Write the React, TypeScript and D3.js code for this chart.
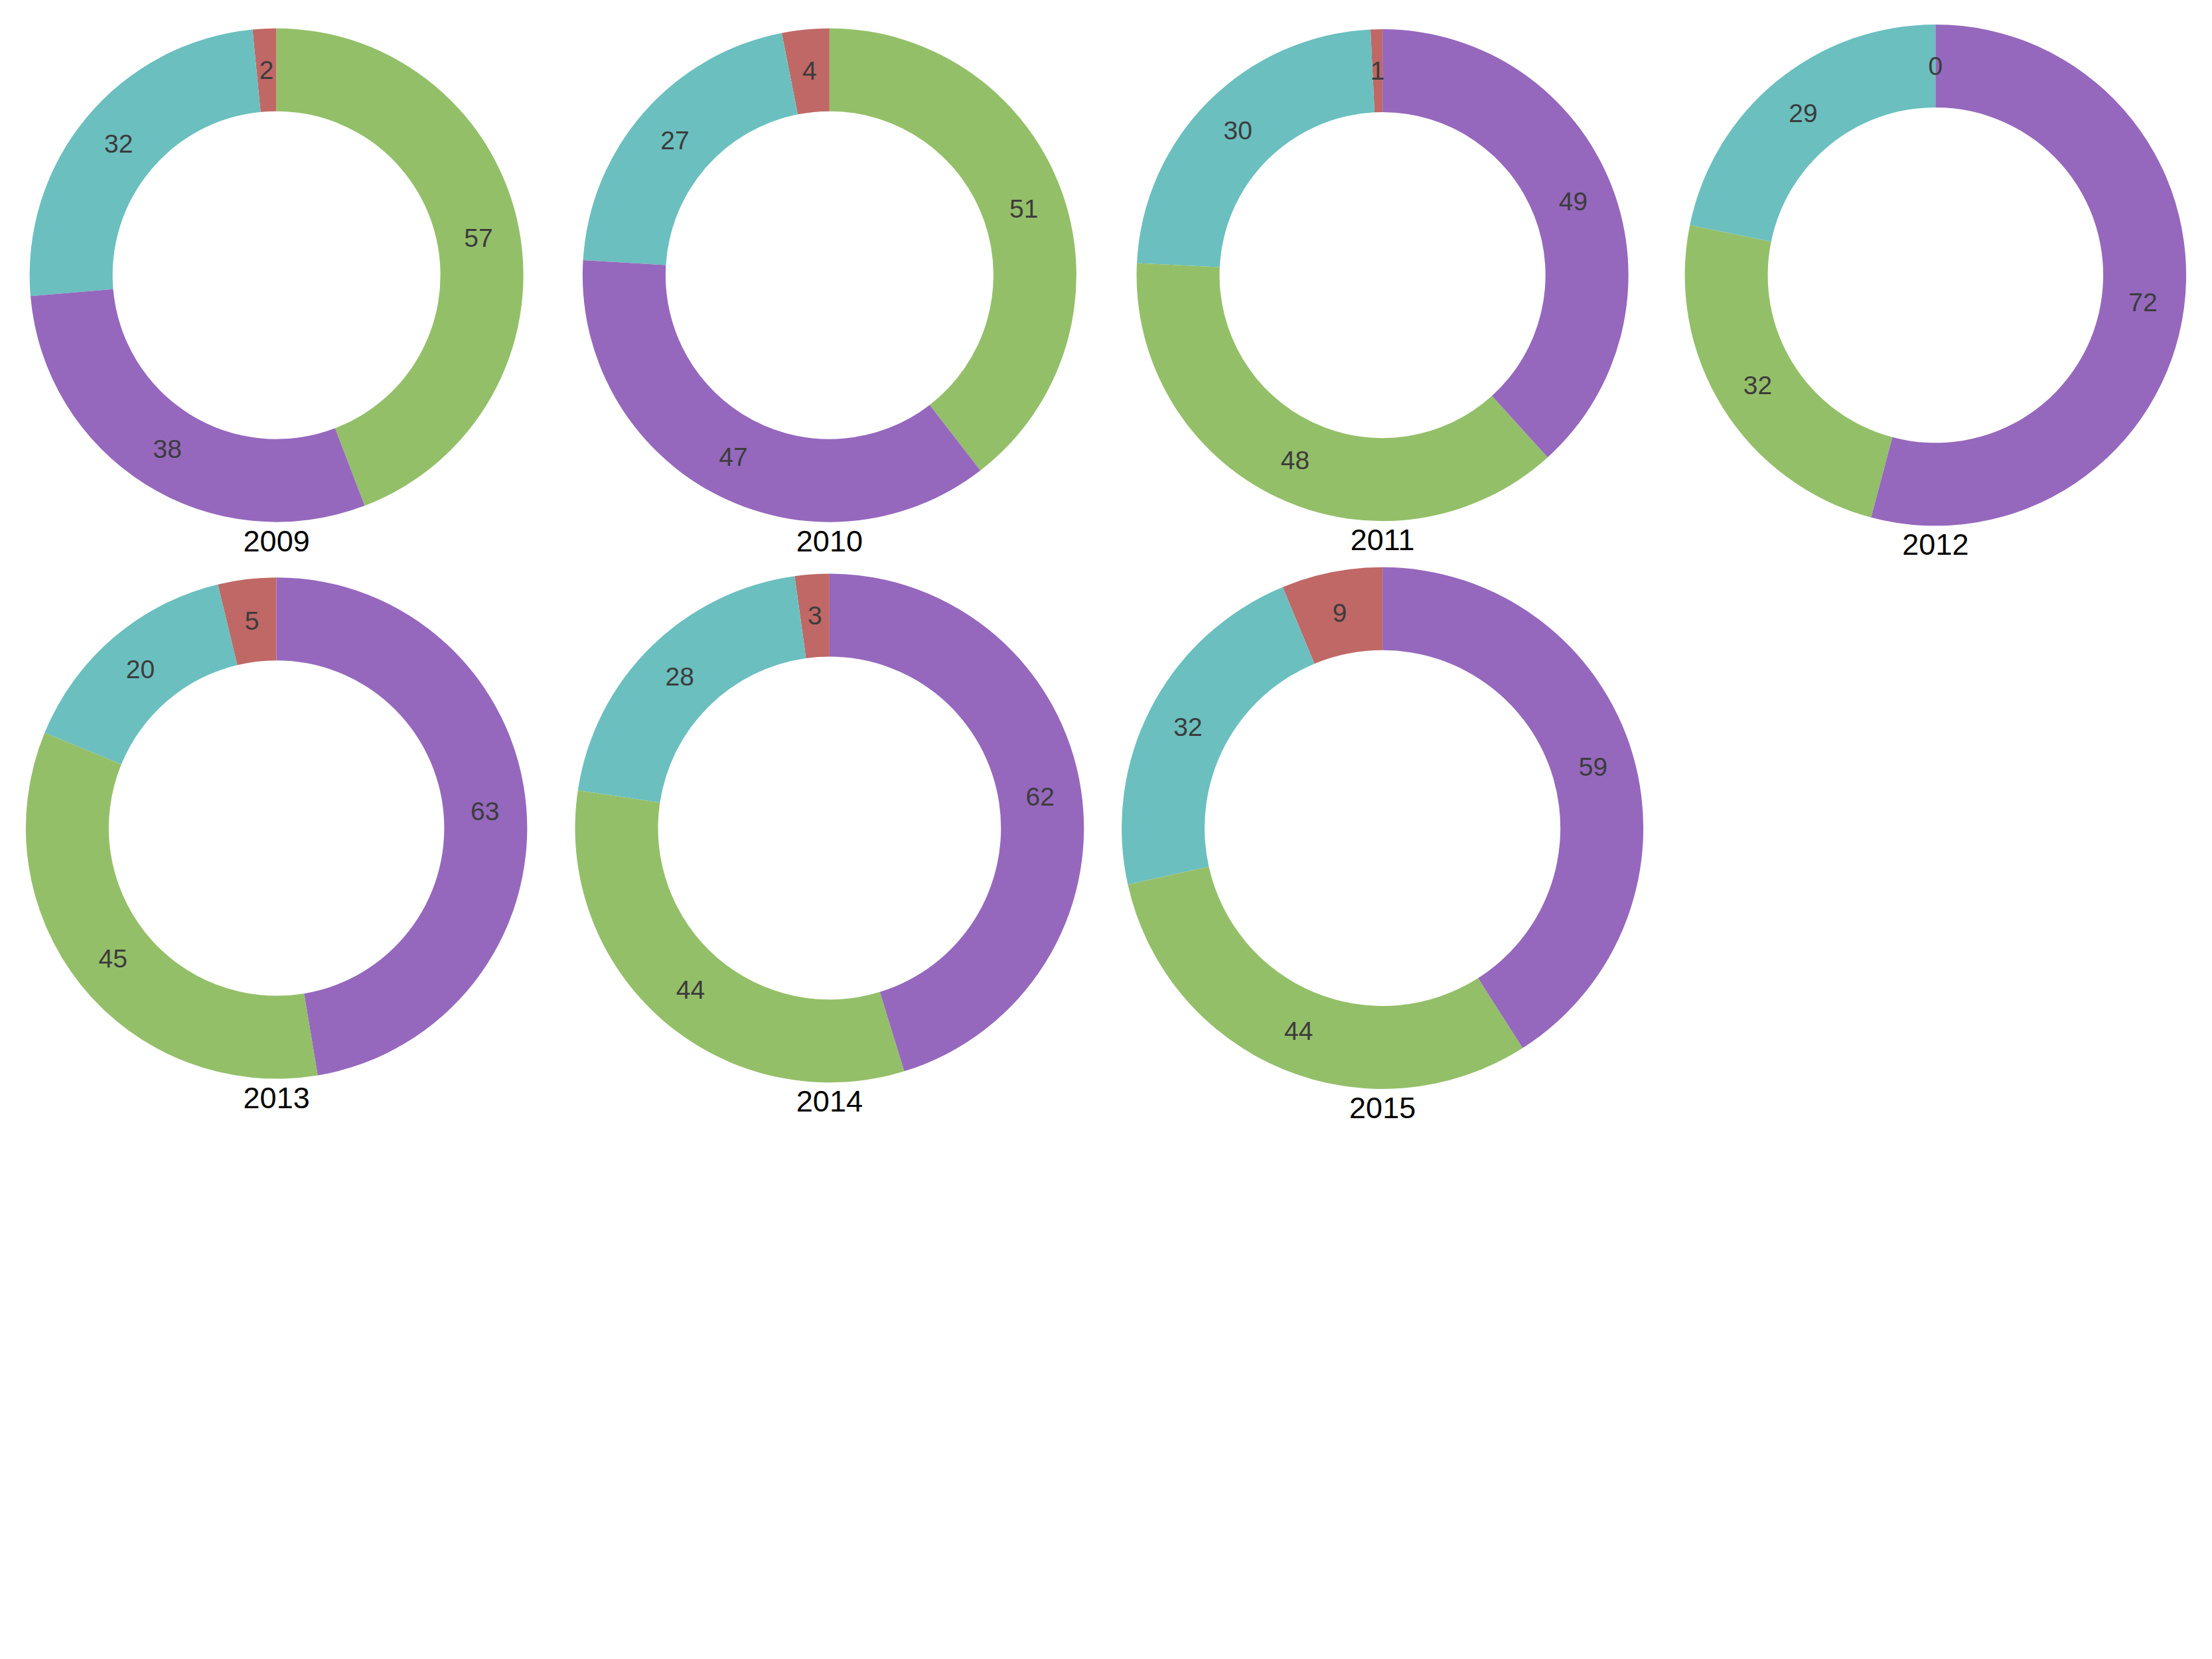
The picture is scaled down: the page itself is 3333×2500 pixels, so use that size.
import React, { useEffect } from 'react';
import * as d3 from 'd3';

// one donut per year, four categories each
const years = ['2009', '2010', '2011', '2012', '2013', '2014', '2015'];
const categories = ['red', 'teal', 'green', 'purple'];
const redValues = [2, 4, 1, 0, 5, 3, 9];
const tealValues = [32, 27, 30, 29, 20, 28, 32];
const greenValues = [57, 51, 48, 32, 45, 44, 44];
const purpleValues = [38, 47, 49, 72, 63, 62, 59];

const colors = ['#c06866', '#6bbfbf', '#94bf69', '#9568bd'];

const W = 3333;
const H = 2500;
const COLS = 4;
const cell = W / COLS;
const RING = 125;                    // ring thickness, constant across donuts
const FONT = '"Liberation Sans", Arial, sans-serif';

const App = () => {
    useEffect(() => {
        document.body.style.margin = '0';
    }, []);

    const series = [redValues, tealValues, greenValues, purpleValues];
    const rows = years.map((year, i) => ({
        year,
        slices: categories.map((c, k) => ({ cat: c, color: colors[k], value: series[k][i] })),
    }));

    // outer radius grows with the square root of the year total
    const rScale = d3.scaleSqrt().domain([0, 129]).range([0, 372]);
    const pie = d3.pie<any>().value(d => d.value);   // default sort: largest first, clockwise from top

    return (
        <svg width={W} height={H} style={{ display: 'block' }}>
            {rows.map((row, i) => {
                const total = d3.sum(row.slices, d => d.value);
                const R = rScale(total);
                const arc = d3.arc<any>().innerRadius(R - RING).outerRadius(R);
                const cx = cell * (i % COLS + 0.5);
                const cy = cell * (Math.floor(i / COLS) + 0.5) - 2;
                const arcs = pie(row.slices);
                return (
                    <g key={row.year} transform={`translate(${cx},${cy})`}>
                        {arcs.map(a => (
                            <path key={a.data.cat} d={arc(a) || ''} fill={a.data.color} />
                        ))}
                        {arcs.map(a => {
                            const [x, y] = arc.centroid(a);
                            return (
                                <text key={'t' + a.data.cat} x={x} y={y} dy="0.35em"
                                    textAnchor="middle" fontFamily={FONT} fontSize={39}
                                    fill="#3c3c3c">
                                    {a.data.value}
                                </text>
                            );
                        })}
                        <text x={0} y={R + 44} textAnchor="middle" fontFamily={FONT}
                            fontSize={45} fill="#000">
                            {row.year}
                        </text>
                    </g>
                );
            })}
        </svg>
    );
};

export default App;
